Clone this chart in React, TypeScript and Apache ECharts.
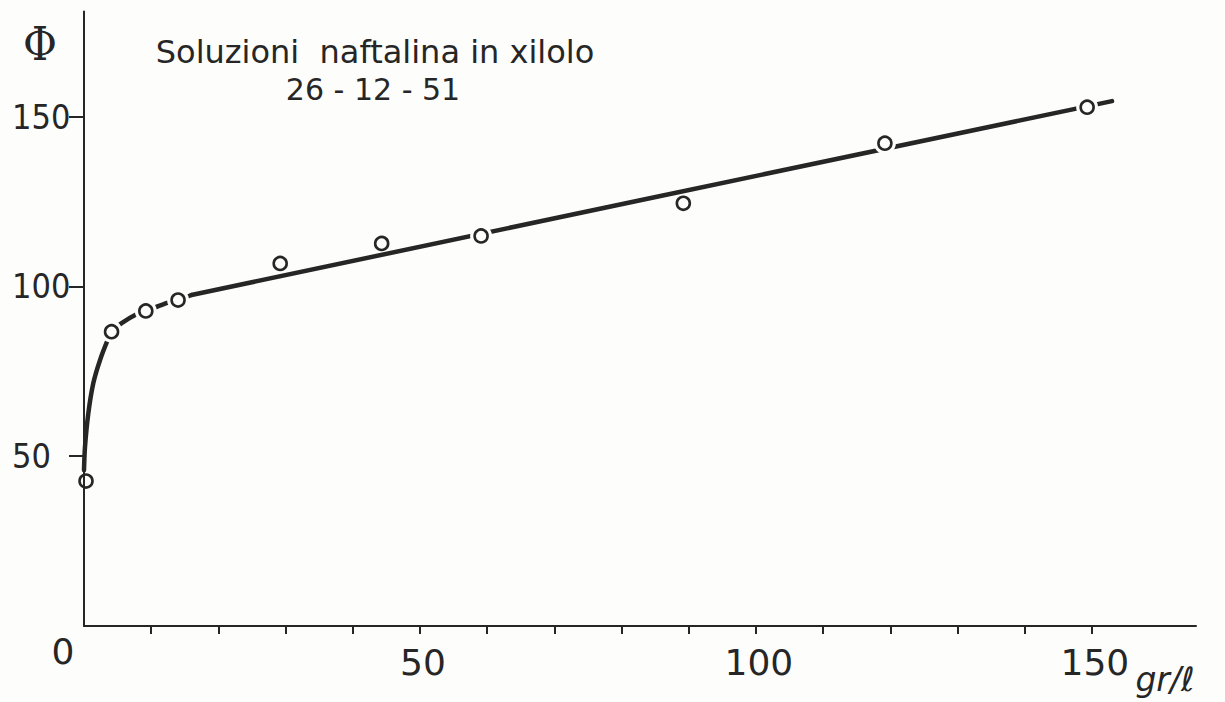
import React, { useEffect, useRef } from "react";
import * as echarts from "echarts";

// Measured points (gr/l, Φ)
const pointX = [0.3, 4.1, 9.2, 14.0, 29.2, 44.3, 59.1, 89.2, 119.2, 149.3];
const pointY = [42.7, 86.7, 92.8, 96.0, 106.8, 112.7, 114.9, 124.5, 142.2, 152.8];
// points where the drawn curve is interrupted around the circle
const gapAtPoint = [false, true, true, true, false, false, true, false, true, true];

// Hand-drawn fitted curve
const curveX = [0, 0.15, 0.64, 1.38, 2.38, 3.62, 4.12, 5.6, 8.1, 9.2, 10.3, 12.8, 14.0, 16.0];
const curveY = [45.9, 52.8, 62.6, 71.5, 78.3, 84.7, 86.7, 89.2, 92.1, 92.8, 93.6, 95.5, 96.0, 97.5];
const lineX = [16.0, 84.2, 153.0];
const lineY = [97.5, 126.0, 154.6];

const xTicks = [10, 20, 30, 40, 50, 60, 70, 80, 90, 100, 110, 120, 130, 140, 150];
const xLabels = [0, 50, 100, 150];
const yTicks = [50, 100, 150];

const titleLine1 = "Soluzioni  naftalina in xilolo";
const titleLine2 = "26 - 12 - 51";
const yName = "Φ";
const xName = "gr/ℓ";

const BG = "#fdfdfb";
const INK = "#262626";

export default function App() {
  const ref = useRef<HTMLDivElement>(null);
  useEffect(() => {
    if (!ref.current) return;
    const chart = echarts.init(ref.current, undefined, { renderer: "svg" });
    const pts = pointX.map((x, i) => [x, pointY[i]]);
    const halo = pts.filter((_, i) => gapAtPoint[i]);
    chart.setOption({
      animation: false,
      backgroundColor: BG,
      grid: { left: 84, right: 29, top: 11.5, bottom: 76 },
      xAxis: {
        type: "value",
        min: 0,
        max: 165.5,
        splitLine: { show: false },
        axisLine: { show: true, lineStyle: { color: INK, width: 2 } },
        axisTick: {
          show: true,
          customValues: xTicks,
          length: 8,
          lineStyle: { color: INK, width: 2 },
        },
        axisLabel: {
          customValues: xLabels,
          margin: 7,
          color: INK,
          fontFamily: "DejaVu Sans",
          fontSize: 36,
          formatter: (v: number) => (v === 0 ? "{z|0}" : "{n|" + v + "}"),
          rich: {
            z: {
              fontFamily: "DejaVu Sans",
              fontSize: 36,
              color: INK,
              padding: [0, 42, 0, 0],
            },
            n: {
              fontFamily: "DejaVu Sans",
              fontSize: 36,
              color: INK,
              padding: [11, 0, 0, 6],
            },
          },
        },
      },
      yAxis: {
        type: "value",
        min: 0,
        max: 181,
        z: 5,
        splitLine: { show: false },
        axisLine: { show: true, lineStyle: { color: INK, width: 2 } },
        axisTick: {
          show: true,
          customValues: yTicks,
          length: 15,
          lineStyle: { color: INK, width: 2 },
        },
        axisLabel: {
          customValues: yTicks,
          margin: 72,
          align: "left",
          color: INK,
          fontFamily: "'Liberation Sans Narrow', 'DejaVu Sans Condensed', sans-serif",
          fontSize: 34,
        },
      },
      graphic: [
        {
          type: "text",
          x: 375,
          y: 52,
          style: {
            text: titleLine1,
            font: "32px 'DejaVu Sans'",
            fill: INK,
            textAlign: "center",
            textVerticalAlign: "middle",
          },
        },
        {
          type: "text",
          x: 373,
          y: 89,
          style: {
            text: titleLine2,
            font: "30px 'DejaVu Sans'",
            fill: INK,
            textAlign: "center",
            textVerticalAlign: "middle",
          },
        },
        {
          type: "text",
          x: 40,
          y: 44,
          style: {
            text: yName,
            font: "46px 'DejaVu Serif Condensed', 'DejaVu Serif', serif",
            fill: INK,
            textAlign: "center",
            textVerticalAlign: "middle",
          },
        },
        {
          type: "text",
          x: 1165,
          y: 679,
          style: {
            text: xName,
            font: "italic 33px 'DejaVu Sans'",
            fill: INK,
            textAlign: "center",
            textVerticalAlign: "middle",
          },
        },
      ],
      series: [
        {
          type: "line",
          data: curveX.map((x, i) => [x, curveY[i]]),
          smooth: 0.3,
          showSymbol: false,
          lineStyle: { color: INK, width: 4.5, cap: "round" },
          z: 2,
        },
        {
          type: "line",
          data: lineX.map((x, i) => [x, lineY[i]]),
          showSymbol: false,
          lineStyle: { color: INK, width: 4.5, cap: "round" },
          z: 2,
        },
        {
          type: "scatter",
          data: halo,
          symbol: "circle",
          symbolSize: 22,
          itemStyle: { color: BG, opacity: 1 },
          z: 3,
        },
        {
          type: "scatter",
          data: pts,
          symbol: "circle",
          symbolSize: 13,
          itemStyle: { color: BG, borderColor: INK, borderWidth: 2.6, opacity: 1 },
          z: 4,
        },
      ],
    });
    return () => chart.dispose();
  }, []);
  return (
    <div
      ref={ref}
      style={{ position: "fixed", left: 0, top: 0, width: 1225, height: 702, background: BG }}
    />
  );
}
